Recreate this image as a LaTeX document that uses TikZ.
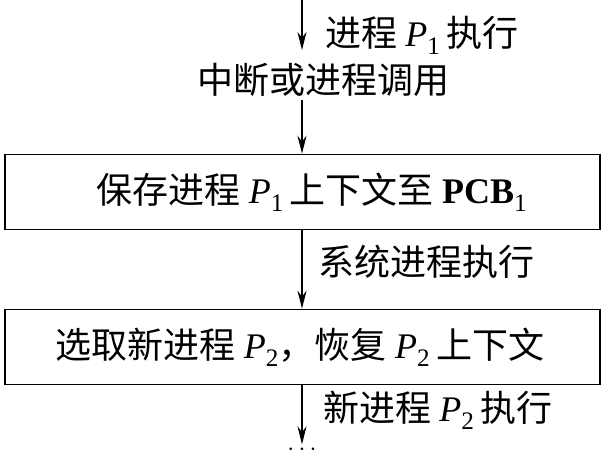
\documentclass[tikz,border=0pt]{standalone}
\usepackage{fontspec}
\setmainfont{Liberation Serif}
\newfontfamily\cjk{Noto Sans CJK SC}
\newcommand{\Pn}[1]{{\rmfamily\textit{P}\textsubscript{#1}}}
\usetikzlibrary{arrows.meta}
\begin{document}
\begin{tikzpicture}[x=1pt,y=-1pt,
  arr/.style={draw,line width=1.6pt,-{Stealth[length=18pt,width=9pt]}},
  boxst/.style={draw,line width=1.6pt,minimum width=595pt,minimum height=75pt},
  lab/.style={font=\fontsize{36}{40}\selectfont\cjk,inner sep=0pt}]
\useasboundingbox (0,0) rectangle (608,464);
\coordinate (top) at (302,0);
\node[lab,anchor=west] (l1) at (325,35) {进程 \Pn{1}\,执行};
\node[lab] (int) at (323,80) {中断或进程调用};
\node[boxst] (b1) at (302.5,192) {};
\node[lab] (t1) at (312,192) {保存进程 \Pn{1}\,上下文至 {\rmfamily\bfseries PCB\textsubscript{\mdseries 1}}};
\node[lab,anchor=west] (l2) at (318,262) {系统进程执行};
\node[boxst] (b2) at (302.5,347) {};
\node[lab] (t2) at (300,347) {选取新进程 \Pn{2}，恢复 \Pn{2}\,上下文};
\node[lab,anchor=west] (l3) at (323,410) {新进程 \Pn{2}\,执行};
\node[inner sep=0pt,font=\fontsize{40}{44}\selectfont] (dots) at (302,450) {$\cdots$};
\coordinate (a1e) at (302,50);
\coordinate (a2s) at (302,100);
\draw[arr] (top) -- (a1e);
\draw[arr] (a2s) -- (b1.north -| a2s);
\draw[arr] (b1.south -| a2s) -- (b2.north -| a2s);
\draw[arr] (b2.south -| a2s) -- (dots.north);
\end{tikzpicture}
\end{document}
